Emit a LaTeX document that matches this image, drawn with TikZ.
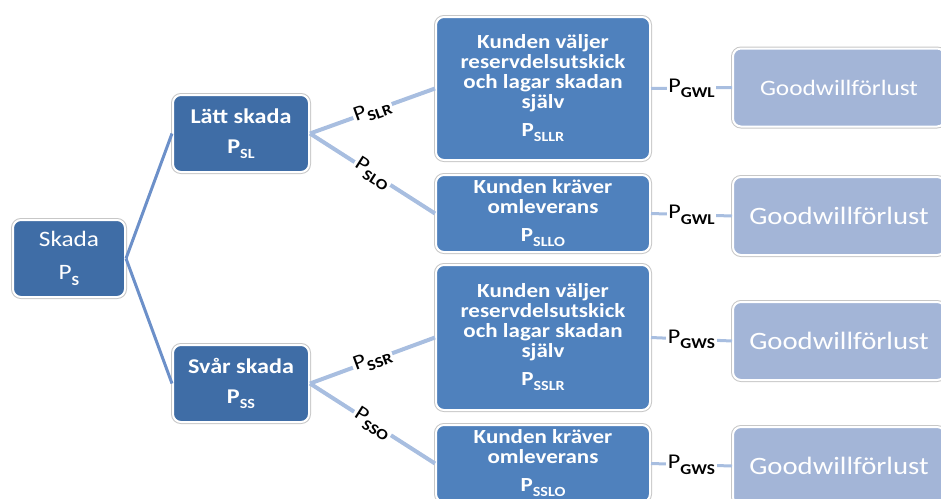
\documentclass[tikz,border=0pt]{standalone}
\usepackage{fontspec}
\setmainfont{Carlito}[FakeStretch=1.15]
\definecolor{darkbox}{HTML}{3F6DA6}
\definecolor{midbox}{HTML}{4F81BD}
\definecolor{lightbox}{HTML}{A3B5D7}
\definecolor{lineone}{HTML}{6C90C9}
\definecolor{linetwo}{HTML}{A8BEE0}
\newcommand{\psub}[2][13]{\raisebox{-0.25em}{\fontsize{#1}{#1}\selectfont\bfseries #2}}
\newcommand{\fs}[1]{\fontsize{#1}{#1}\selectfont}
\tikzset{
  boxbase/.style={rounded corners=8pt, draw=white, line width=2pt,
    preaction={draw=black!22, line width=4pt}, text=white, align=center, inner sep=0pt},
  lvone/.style={boxbase, fill=darkbox},
  lvthree/.style={boxbase, fill=midbox, minimum width=214pt},
  gwbox/.style={boxbase, fill=lightbox, minimum width=212pt, minimum height=78pt},
  connone/.style={draw=lineone, line width=3pt},
  conntwo/.style={draw=linetwo, line width=4pt},
  connthree/.style={draw=linetwo, line width=3pt},
  plabel/.style={fill=white, inner sep=1.5pt, text=black, font=\fs{21}}
}
\begin{document}
\begin{tikzpicture}[x=1pt,y=-1pt]
\useasboundingbox (0,0) rectangle (941,498);
\clip (0,0) rectangle (941,498);
% level 1
\node[lvone, minimum width=112pt, minimum height=77pt, font=\fs{22}] (skada) at (69,258.5)
  {Skada\\[11pt]P\psub[14]{S}};
% level 2
\node[lvone, minimum width=136pt, minimum height=77pt, font=\fs{21}\bfseries] (latt) at (241,133.5)
  {Lätt skada\\[9pt]P\psub[14]{SL}};
\node[lvone, minimum width=136pt, minimum height=77pt, font=\fs{21}\bfseries] (svar) at (241,383.5)
  {Svår skada\\[9pt]P\psub[14]{SS}};
% level 3
\node[lvthree, minimum height=143pt, font=\fs{20}\bfseries] (b1) at (543,88.5)
  {Kunden väljer\\reservdelsutskick\\och lagar skadan\\själv\\[8pt]P\psub[14]{SLLR}};
\node[lvthree, minimum height=77pt, font=\fs{20}\bfseries] (b2) at (543,213.5)
  {Kunden kräver\\omleverans\\[8pt]P\psub[14]{SLLO}};
\node[lvthree, minimum height=145pt, font=\fs{20}\bfseries] (b3) at (543,337.5)
  {Kunden väljer\\reservdelsutskick\\och lagar skadan\\själv\\[8pt]P\psub[14]{SSLR}};
\node[lvthree, minimum height=77pt, font=\fs{20}\bfseries] (b4) at (543,463.5)
  {Kunden kräver\\omleverans\\[8pt]P\psub[14]{SSLO}};
% level 4
\node[gwbox, font=\fs{22}] (g1) at (839,87.5) {Goodwillförlust};
\node[gwbox, font=\fs{25}] (g2) at (839,216) {Goodwillförlust};
\node[gwbox, font=\fs{25}] (g3) at (839,341) {Goodwillförlust};
\node[gwbox, font=\fs{25}] (g4) at (839,466) {Goodwillförlust};
% connectors
\draw[connone] (skada.east) -- (latt.west);
\draw[connone] (skada.east) -- (svar.west);
\draw[conntwo] (latt.east) -- node[plabel, sloped]{P\psub[15]{SLR}} (b1.west);
\draw[conntwo] (latt.east) -- node[plabel, sloped]{P\psub[15]{SLO}} (b2.west);
\draw[conntwo] (svar.east) -- node[plabel, sloped]{P\psub[15]{SSR}} (b3.west);
\draw[conntwo] (svar.east) -- node[plabel, sloped]{P\psub[15]{SSO}} (b4.west);
\draw[connthree] (b1.east) -- node[plabel]{P\psub[15]{GWL}} (g1.west);
\draw[connthree] (b2.east) -- node[plabel]{P\psub[15]{GWL}} (g2.west);
\draw[connthree] (b3.east) -- node[plabel]{P\psub[15]{GWS}} (g3.west);
\draw[connthree] (b4.east) -- node[plabel]{P\psub[15]{GWS}} (g4.west);
\end{tikzpicture}
\end{document}
